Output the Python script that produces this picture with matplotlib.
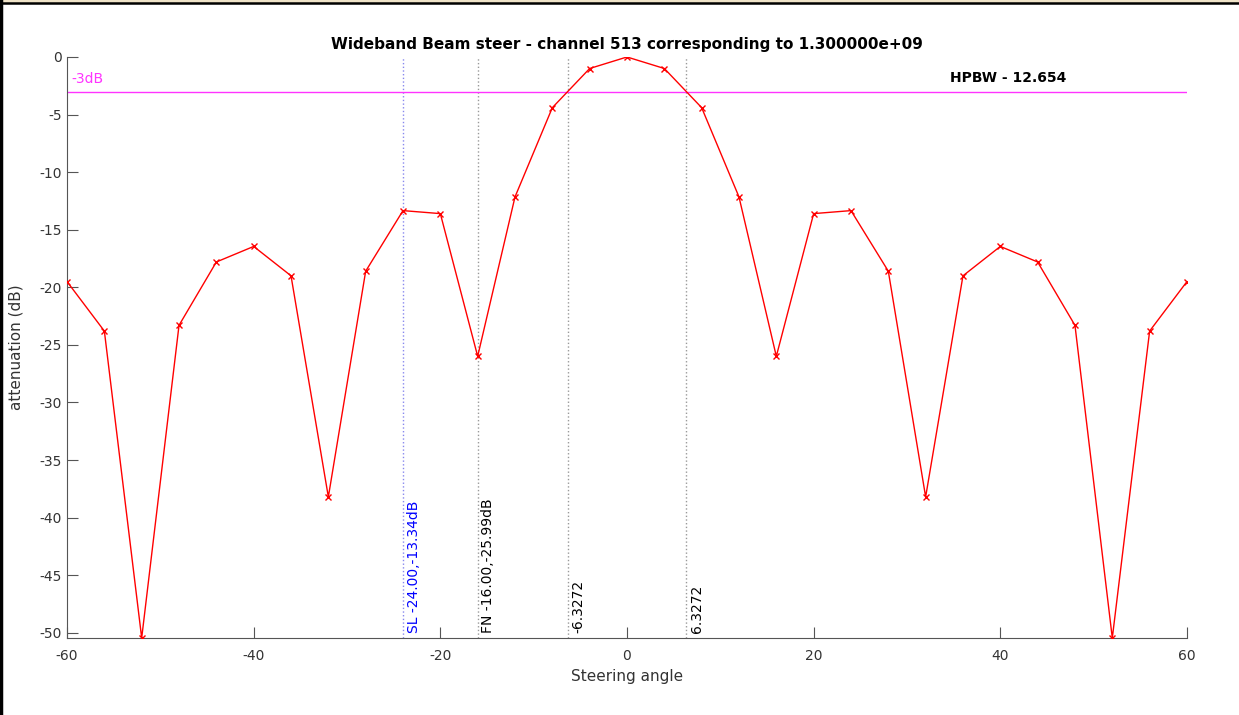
import matplotlib
matplotlib.use("Agg")
import matplotlib.pyplot as plt
from matplotlib.lines import Line2D
from matplotlib.patches import Rectangle

plt.rcParams["axes.unicode_minus"] = False

# steering angles (deg) and attenuation (dB)
angles = [-60, -56, -52, -48, -44, -40, -36, -32, -28, -24, -20, -16, -12, -8, -4, 0,
          4, 8, 12, 16, 20, 24, 28, 32, 36, 40, 44, 48, 52, 56, 60]
atten = [-19.5, -23.8, -50.45, -23.3, -17.8, -16.45, -19.0, -38.2, -18.6, -13.34, -13.6,
         -25.99, -12.15, -4.4, -1.0, 0.0,
         -1.0, -4.4, -12.15, -25.99, -13.6, -13.34, -18.6, -38.2, -19.0, -16.45, -17.8,
         -23.3, -50.45, -23.8, -19.5]

sl_angle, sl_level = -24.0, -13.34
fn_angle, fn_level = -16.0, -25.99
hp_left, hp_right = -6.3272, 6.3272
hpbw = 12.654
cut_db = -3.0

GREY = "#555555"

fig = plt.figure(figsize=(12.39, 7.15), dpi=100)
ax = fig.add_axes([0.0541, 0.1077, 0.9039, 0.8126])

# window frame bits
fig.patches.append(Rectangle((0, 0.9965), 1, 0.0035, transform=fig.transFigure,
                             facecolor="#efe3c8", edgecolor="none", zorder=0))
fig.lines.append(Line2D([0, 1], [0.9955, 0.9955], transform=fig.transFigure,
                        color="black", linewidth=1.8))
fig.lines.append(Line2D([0.0012, 0.0012], [0, 1], transform=fig.transFigure,
                        color="black", linewidth=2.5))

ax.axhline(cut_db, color="#ff33ff", linewidth=1.0, zorder=2)
ax.text(-59.5, -1.9, "-3dB", color="#ff33ff", fontsize=10, ha="left", va="center")
ax.text(34.6, -1.8, f"HPBW - {hpbw:.3f}", color="black", fontsize=10,
        fontweight="bold", ha="left", va="center")

ax.axvline(sl_angle, color="#8888ee", linestyle=":", linewidth=1.0, zorder=1)
ax.axvline(fn_angle, color="#999999", linestyle=":", linewidth=1.0, zorder=1)
ax.axvline(hp_left, color="#999999", linestyle=":", linewidth=1.0, zorder=1)
ax.axvline(hp_right, color="#999999", linestyle=":", linewidth=1.0, zorder=1)

ax.plot(angles, atten, color="red", marker="x", markersize=5, linewidth=1.0, zorder=3)

ybase = -50.0
ax.text(sl_angle + 1.15, ybase, f"SL {sl_angle:.2f},{sl_level:.2f}dB", color="#0000ff",
        rotation=90, fontsize=10, ha="center", va="bottom")
ax.text(fn_angle + 1.15, ybase, f"FN {fn_angle:.2f},{fn_level:.2f}dB", color="black",
        rotation=90, fontsize=10, ha="center", va="bottom")
ax.text(hp_left + 1.15, ybase, f"{hp_left:.4f}", color="black",
        rotation=90, fontsize=10, ha="center", va="bottom")
ax.text(hp_right + 1.15, ybase, f"{hp_right:.4f}", color="black",
        rotation=90, fontsize=10, ha="center", va="bottom")

ax.set_xlim(-60, 60)
ax.set_ylim(min(atten), 0)
ax.set_xticks([-60, -40, -20, 0, 20, 40, 60])
ax.set_yticks([0, -5, -10, -15, -20, -25, -30, -35, -40, -45, -50])
ax.tick_params(direction="in", length=8, colors=GREY, labelcolor="#333333", labelsize=10)
ax.tick_params(axis="x", pad=8)
for side in ["top", "right"]:
    ax.spines[side].set_visible(False)
for side in ["left", "bottom"]:
    ax.spines[side].set_color(GREY)

ax.set_xlabel("Steering angle", fontsize=11, color="#333333")
ax.set_ylabel("attenuation (dB)", fontsize=11, color="#333333", labelpad=12)
ax.set_title("Wideband Beam steer - channel 513 corresponding to 1.300000e+09",
             fontsize=11, fontweight="bold", pad=6)

fig.savefig("out.png", dpi=100)
